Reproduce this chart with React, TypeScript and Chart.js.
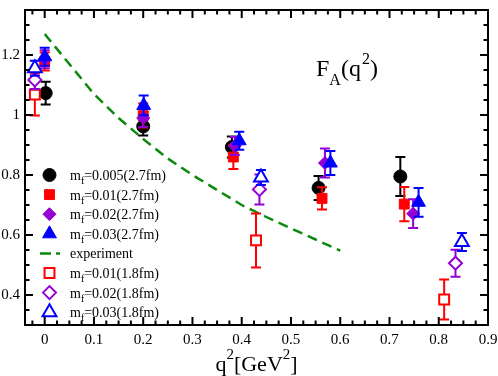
import React, { useEffect, useRef } from 'react';
import { Chart, registerables } from 'chart.js';
import { drawPoint } from 'chart.js/helpers';

Chart.register(...registerables);

// ---- axis ticks ----
const xTicks = [0, 0.1, 0.2, 0.3, 0.4, 0.5, 0.6, 0.7, 0.8, 0.9];
const yTicks = [0.4, 0.6, 0.8, 1.0, 1.2];

// ---- mf=0.005 (2.7fm) ----
const qBlack = [0.002, 0.2, 0.38, 0.556, 0.722];
const fBlack = [1.073, 0.962, 0.893, 0.757, 0.795];
const eBlack = [0.038, 0.03, 0.035, 0.04, 0.065];

// ---- mf=0.01 (2.7fm) ----
const qRed = [0.0, 0.2, 0.383, 0.563, 0.73];
const fRed = [1.178, 0.998, 0.86, 0.722, 0.703];
const eRed = [0.03, 0.04, 0.04, 0.037, 0.057];

// ---- mf=0.02 (2.7fm) ----
const qPurple = [0.0, 0.2, 0.386, 0.569, 0.748];
const fPurple = [1.186, 0.99, 0.897, 0.84, 0.671];
const ePurple = [0.03, 0.03, 0.03, 0.048, 0.048];

// ---- mf=0.03 (2.7fm) ----
const qBlue = [0.0, 0.201, 0.395, 0.58, 0.759];
const fBlue = [1.194, 1.032, 0.914, 0.84, 0.709];
const eBlue = [0.03, 0.033, 0.03, 0.04, 0.048];

// ---- experiment ----
const qExp = [0, 0.05, 0.1, 0.15, 0.2, 0.25, 0.3, 0.35, 0.4, 0.45, 0.5, 0.55, 0.6];
const fExp = [1.27, 1.17, 1.07, 0.99, 0.92, 0.855, 0.8, 0.75, 0.7, 0.66, 0.622, 0.585, 0.548];

// ---- mf=0.01 (1.8fm) ----
const qRedOpen = [-0.02, 0.429, 0.811];
const fRedOpen = [1.068, 0.582, 0.385];
const eRedOpen = [0.07, 0.09, 0.067];

// ---- mf=0.02 (1.8fm) ----
const qPurpleOpen = [-0.02, 0.436, 0.834];
const fPurpleOpen = [1.117, 0.752, 0.506];
const ePurpleOpen = [0.03, 0.05, 0.045];

// ---- mf=0.03 (1.8fm) ----
const qBlueOpen = [-0.02, 0.439, 0.847];
const fBlueOpen = [1.156, 0.792, 0.577];
const eBlueOpen = [0.025, 0.025, 0.03];

const legendLabels = [
  'm_f=0.005(2.7fm)',
  'm_f=0.01(2.7fm)',
  'm_f=0.02(2.7fm)',
  'm_f=0.03(2.7fm)',
  'experiment',
  'm_f=0.01(1.8fm)',
  'm_f=0.02(1.8fm)',
  'm_f=0.03(1.8fm)',
];

const FONT = "'Liberation Serif', 'Times New Roman', serif";
const BLACK = '#000000';
const RED = '#ff0000';
const PURPLE = '#9400d3';
const BLUE = '#0000ff';
const GREEN = '#0a8a0a';

type Series = {
  q: number[];
  f: number[];
  e: number[] | null;
  color: string;
  style: string;
  radius: number;
  open: boolean;
  line: boolean;
};

const series: Series[] = [
  { q: qBlack, f: fBlack, e: eBlack, color: BLACK, style: 'circle', radius: 6.5, open: false, line: false },
  { q: qRed, f: fRed, e: eRed, color: RED, style: 'rect', radius: 7, open: false, line: false },
  { q: qPurple, f: fPurple, e: ePurple, color: PURPLE, style: 'rectRot', radius: 6.5, open: false, line: false },
  { q: qBlue, f: fBlue, e: eBlue, color: BLUE, style: 'triangle', radius: 8, open: false, line: false },
  { q: qExp, f: fExp, e: null, color: GREEN, style: 'line', radius: 0, open: false, line: true },
  { q: qRedOpen, f: fRedOpen, e: eRedOpen, color: RED, style: 'rect', radius: 7, open: true, line: false },
  { q: qPurpleOpen, f: fPurpleOpen, e: ePurpleOpen, color: PURPLE, style: 'rectRot', radius: 6.5, open: true, line: false },
  { q: qBlueOpen, f: fBlueOpen, e: eBlueOpen, color: BLUE, style: 'triangle', radius: 8, open: true, line: false },
];

const errorBarPlugin = {
  id: 'errorBars',
  beforeDatasetDraw(chart: any, args: any) {
    const ds = chart.data.datasets[args.index];
    if (!ds.errors) return;
    const ctx = chart.ctx;
    const y = chart.scales.y;
    const meta = args.meta;
    ctx.save();
    ctx.setLineDash([]);
    ctx.strokeStyle = ds.borderColor;
    ctx.lineWidth = 2;
    ctx.lineCap = 'butt';
    meta.data.forEach((pt: any, i: number) => {
      const v = ds.data[i].y;
      const err = ds.errors[i];
      const top = y.getPixelForValue(v + err);
      const bot = y.getPixelForValue(v - err);
      const x = pt.x;
      ctx.beginPath();
      ctx.moveTo(x, top);
      ctx.lineTo(x, bot);
      ctx.moveTo(x - 5, top);
      ctx.lineTo(x + 5, top);
      ctx.moveTo(x - 5, bot);
      ctx.lineTo(x + 5, bot);
      ctx.stroke();
    });
    ctx.restore();
  },
};

const frameTicksPlugin = {
  id: 'frameTicks',
  afterDraw(chart: any) {
    const ctx = chart.ctx;
    const { left, right, top, bottom } = chart.chartArea;
    const xs = chart.scales.x;
    const ys = chart.scales.y;
    ctx.save();
    ctx.setLineDash([]);
    ctx.strokeStyle = '#000';
    ctx.lineWidth = 2;
    ctx.beginPath();
    ctx.moveTo(left, top);
    ctx.lineTo(right, top);
    ctx.lineTo(right, bottom);
    ctx.lineTo(left, bottom);
    ctx.closePath();
    ctx.stroke();
    ctx.beginPath();
    // x ticks every 0.025
    for (let k = -1; k <= 36; k++) {
      const v = k * 0.025;
      const px = xs.getPixelForValue(v);
      if (px <= left + 1 || px >= right - 1) continue;
      const major = k % 4 === 0;
      const len = major ? 8 : 4.5;
      ctx.moveTo(px, bottom);
      ctx.lineTo(px, bottom - len);
      ctx.moveTo(px, top);
      ctx.lineTo(px, top + len);
    }
    // y ticks every 0.05
    for (let k = 6; k <= 27; k++) {
      const v = k * 0.05;
      const py = ys.getPixelForValue(v);
      if (py <= top + 1 || py >= bottom - 1) continue;
      const major = k % 4 === 0;
      const len = major ? 8 : 4.5;
      ctx.moveTo(left, py);
      ctx.lineTo(left + len, py);
      ctx.moveTo(right, py);
      ctx.lineTo(right - len, py);
    }
    ctx.stroke();

    // title F_A(q^2)
    ctx.fillStyle = '#000';
    ctx.textBaseline = 'alphabetic';
    ctx.textAlign = 'left';
    let tx = 316;
    const tb = 76;
    ctx.font = `24px ${FONT}`;
    ctx.fillText('F', tx, tb);
    tx += ctx.measureText('F').width;
    ctx.font = `16px ${FONT}`;
    ctx.fillText('A', tx, tb + 9);
    tx += ctx.measureText('A').width;
    ctx.font = `24px ${FONT}`;
    ctx.fillText('(q', tx, tb);
    tx += ctx.measureText('(q').width;
    ctx.font = `16px ${FONT}`;
    ctx.fillText('2', tx + 1, tb - 12);
    tx += ctx.measureText('2').width + 1;
    ctx.font = `24px ${FONT}`;
    ctx.fillText(')', tx, tb);

    // x axis title q^2[GeV^2]
    const parts: [string, boolean][] = [['q', false], ['2', true], ['[GeV', false], ['2', true], [']', false]];
    let total = 0;
    parts.forEach(([s, sup]) => {
      ctx.font = sup ? `15px ${FONT}` : `22px ${FONT}`;
      total += ctx.measureText(s).width;
    });
    let ax = (left + right) / 2 - total / 2;
    const ab = 371;
    parts.forEach(([s, sup]) => {
      ctx.font = sup ? `15px ${FONT}` : `22px ${FONT}`;
      ctx.fillText(s, ax, sup ? ab - 12 : ab);
      ax += ctx.measureText(s).width;
    });

    // legend
    const rowY = (i: number) => ys.getPixelForValue(0.8) + i * 19.6;
    const mx = 49.5;
    const textX = 70;
    series.forEach((s, i) => {
      const cy = rowY(i);
      if (s.line) {
        ctx.save();
        ctx.strokeStyle = s.color;
        ctx.lineWidth = 2.5;
        ctx.setLineDash([11, 5]);
        ctx.beginPath();
        ctx.moveTo(40, cy);
        ctx.lineTo(60, cy);
        ctx.stroke();
        ctx.restore();
      } else {
        ctx.save();
        ctx.fillStyle = s.open ? '#ffffff' : s.color;
        ctx.strokeStyle = s.color;
        ctx.lineWidth = s.open ? 2 : 1;
        drawPoint(ctx, { pointStyle: s.style, radius: s.radius, rotation: 0, borderWidth: s.open ? 2 : 1 } as any, mx, cy);
        ctx.restore();
      }
      const label = legendLabels[i];
      ctx.fillStyle = '#000';
      const base = cy + 5;
      let lx = textX;
      const us = label.indexOf('_');
      if (us >= 0) {
        const a = label.slice(0, us);
        const sub = label.slice(us + 1, us + 2);
        const rest = label.slice(us + 2);
        ctx.font = `14px ${FONT}`;
        ctx.fillText(a, lx, base);
        lx += ctx.measureText(a).width;
        ctx.font = `10px ${FONT}`;
        ctx.fillText(sub, lx, base + 4);
        lx += ctx.measureText(sub).width;
        ctx.font = `14px ${FONT}`;
        ctx.fillText(rest, lx, base);
      } else {
        ctx.font = `14px ${FONT}`;
        ctx.fillText(label, lx, base);
      }
    });
    ctx.restore();
  },
};

const zeroPad = (scale: any) => {
  scale.paddingLeft = 0;
  scale.paddingRight = 0;
  scale.paddingTop = 0;
  scale.paddingBottom = 0;
};

export default function App() {
  const ref = useRef<HTMLCanvasElement | null>(null);
  useEffect(() => {
    if (!ref.current) return;
    const n = series.length;
    const datasets = series.map((s, i) => {
      const data = s.q.map((q, k) => ({ x: q, y: s.f[k] }));
      if (s.line) {
        return {
          type: 'line',
          label: legendLabels[i],
          data,
          borderColor: s.color,
          backgroundColor: s.color,
          borderWidth: 2.5,
          borderDash: [10, 6],
          pointRadius: 0,
          showLine: true,
          fill: false,
          order: n - i,
        } as any;
      }
      return {
        type: 'scatter',
        label: legendLabels[i],
        data,
        errors: s.e,
        borderColor: s.color,
        backgroundColor: s.open ? '#ffffff' : s.color,
        pointStyle: s.style,
        pointRadius: s.radius,
        pointBorderWidth: s.open ? 2 : 1,
        showLine: false,
        order: n - i,
      } as any;
    });
    const chart = new Chart(ref.current, {
      type: 'scatter',
      data: { datasets },
      options: {
        animation: false,
        responsive: false,
        maintainAspectRatio: false,
        layout: { padding: { top: 0, right: 10, left: 0, bottom: 0 } },
        plugins: {
          legend: { display: false },
          tooltip: { enabled: false },
        },
        scales: {
          x: {
            type: 'linear',
            min: -0.04,
            max: 0.9,
            grid: { display: false, drawTicks: false },
            border: { display: false },
            afterFit: (scale: any) => { scale.height = 51; zeroPad(scale); },
            afterBuildTicks: (scale: any) => { scale.ticks = xTicks.map((v) => ({ value: v })); },
            ticks: {
              color: '#000',
              font: { family: FONT, size: 15 },
              padding: 6,
              maxRotation: 0,
              autoSkip: false,
              callback: (v: any) => String(Number(Number(v).toFixed(2))),
            },
          },
          y: {
            type: 'linear',
            min: 0.3,
            max: 1.35,
            grid: { display: false, drawTicks: false },
            border: { display: false },
            afterFit: (scale: any) => { scale.width = 25; zeroPad(scale); },
            afterBuildTicks: (scale: any) => { scale.ticks = yTicks.map((v) => ({ value: v })); },
            ticks: {
              color: '#000',
              font: { family: FONT, size: 15 },
              padding: 5,
              autoSkip: false,
              callback: (v: any) => String(Number(Number(v).toFixed(2))),
            },
          },
        },
      } as any,
      plugins: [errorBarPlugin, frameTicksPlugin],
    });
    return () => chart.destroy();
  }, []);
  return (
    <div style={{ position: 'absolute', left: 0, top: 0, width: 498, height: 376, background: '#fff' }}>
      <canvas ref={ref} width={498} height={376} style={{ display: 'block' }} />
    </div>
  );
}
